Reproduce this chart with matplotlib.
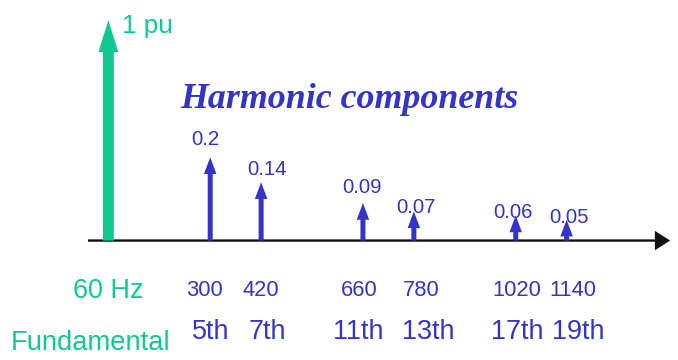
import matplotlib
matplotlib.use('Agg')
import matplotlib.pyplot as plt

fund_freq = 60
fund_value = 1.0
fund_labels = ['60 Hz', 'Fundamental', '1 pu']

freqs = [300, 420, 660, 780, 1020, 1140]
values = [0.2, 0.14, 0.09, 0.07, 0.06, 0.05]
value_labels = ['0.2', '0.14', '0.09', '0.07', '0.06', '0.05']
freq_labels = ['300', '420', '660', '780', '1020', '1140']
order_labels = ['5th', '7th', '11th', '13th', '17th', '19th']
title = 'Harmonic components'

green = '#12C892'
blue = '#3434C8'
sans = 'Liberation Sans'
k = 1.05

# label nudges (points), purely cosmetic
val_off = [(-3.6, 8.6), (4.3, 4.9), (-0.7, 7.6), (1.4, -0.8), (-2.2, -1.4), (1.4, -2.0)]
freq_dx = [-6, 0, -4, 7, 1, 6]
order_dx = [1, 6, -5, 14, 2, 12]

fig = plt.figure(figsize=(6.78, 3.6), dpi=100)
ax = fig.add_axes([0, 0, 1, 1])
ax.set_xlim(-195.4, 1402.5)
ax.set_ylim(-0.287, 0.578)
ax.axis('off')

# frequency axis
ax.annotate('', xy=(1384, 0), xytext=(12, 0),
	arrowprops=dict(width=1.7, headwidth=14, headlength=11, shrink=0, color='#111111', lw=0), zorder=1)

# fundamental is off scale, so it is drawn up to near the top
ax.annotate('', xy=(fund_freq, min(fund_value, 0.944)), xycoords=('data', 'axes fraction'),
	xytext=(fund_freq, 0), textcoords='data',
	arrowprops=dict(width=7.9, headwidth=14.4, headlength=23, shrink=0, color=green, lw=0), zorder=3)
fig.text(122 / 678.0, 1 - 33 / 360.0, fund_labels[2], fontsize=17.8 * k, family=sans,
	color=green, ha='left', va='baseline')
ax.text(fund_freq, 1 - 298 / 360.0, fund_labels[0], transform=ax.get_xaxis_transform(),
	fontsize=18.5 * k, family=sans, color=green, ha='center', va='baseline')
fig.text(91 / 678.0, 1 - 350 / 360.0, fund_labels[1], fontsize=18.8 * k, family=sans,
	color=green, ha='center', va='baseline')

for i in range(len(freqs)):
	ax.annotate('', xy=(freqs[i], values[i]), xytext=(freqs[i], 0),
		arrowprops=dict(width=3.6, headwidth=9, headlength=12, shrink=0, color=blue, lw=0), zorder=3)
	ax.annotate(value_labels[i], xy=(freqs[i], values[i]), xytext=val_off[i], textcoords='offset points',
		fontsize=14 * k, family=sans, color=blue, ha='center', va='baseline', zorder=4)
	ax.annotate(freq_labels[i], xy=(freqs[i], 1 - 296 / 360.0), xycoords=('data', 'axes fraction'),
		xytext=(freq_dx[i] * 0.72, 0), textcoords='offset points',
		fontsize=15 * k, family=sans, color=blue, ha='center', va='baseline')
	ax.annotate(order_labels[i], xy=(freqs[i], 1 - 339 / 360.0), xycoords=('data', 'axes fraction'),
		xytext=(order_dx[i] * 0.72, 0), textcoords='offset points',
		fontsize=18.5 * k, family=sans, color=blue, ha='center', va='baseline')

fig.text(180 / 678.0, 1 - 108 / 360.0, title, fontsize=25.8, family='Liberation Serif',
	style='italic', weight='bold', color=blue, ha='left', va='baseline')

plt.savefig('out.png', dpi=100)
